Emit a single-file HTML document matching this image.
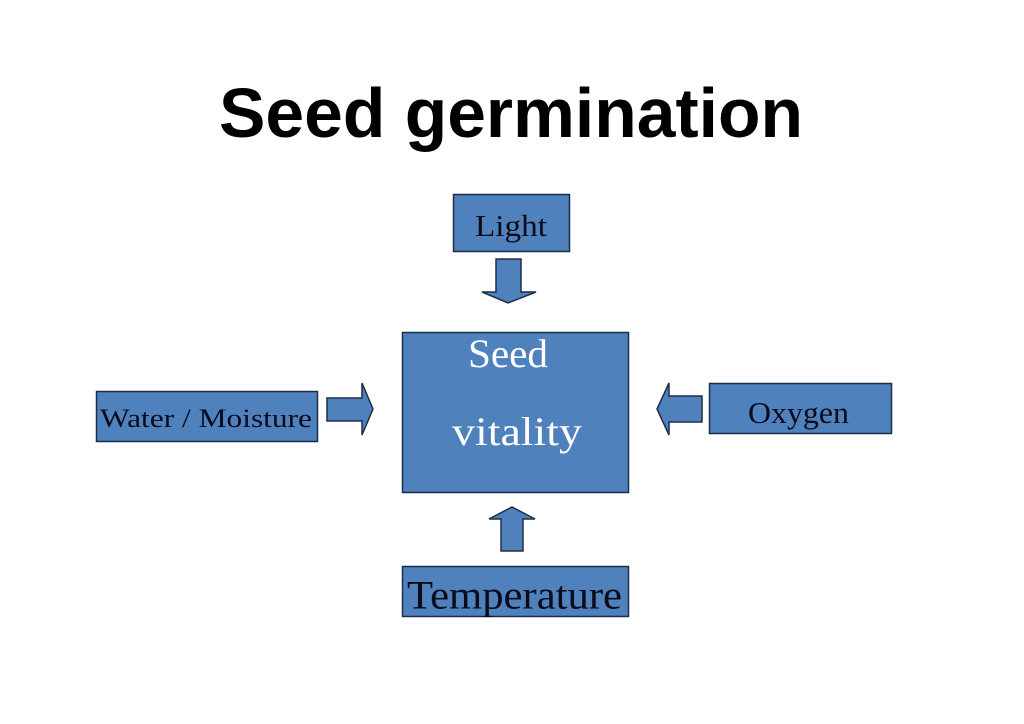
<!DOCTYPE html>
<html>
<head>
<meta charset="utf-8">
<style>
  html, body { margin: 0; padding: 0; background: #ffffff; }
  body { width: 1024px; height: 724px; overflow: hidden; }
  svg { display: block; }
</style>
</head>
<body>
<svg width="1024" height="724" viewBox="0 0 1024 724" xmlns="http://www.w3.org/2000/svg">
  <rect x="0" y="0" width="1024" height="724" fill="#ffffff"/>

  <!-- Title -->
  <text x="219" y="137" font-family="'Liberation Sans', sans-serif" font-weight="bold" font-size="70" fill="#000000" textLength="584" lengthAdjust="spacingAndGlyphs">Seed germination</text>

  <g fill="#4f81bd" stroke="#1e2d48" stroke-width="1.5">
    <!-- Boxes -->
    <rect x="453.5" y="194.5" width="116" height="57"/>
    <rect x="96.5" y="391.5" width="221" height="50"/>
    <rect x="709.5" y="383.5" width="182" height="50"/>
    <rect x="402.5" y="332.5" width="226" height="160"/>
    <rect x="402.5" y="566.5" width="226" height="50"/>

    <!-- Down arrow (Light) -->
    <polygon points="496,259 521,259 521,292 536,292 508,303 482,292 496,292"/>
    <!-- Right arrow (Water) -->
    <polygon points="327,398 362,398 362,383 373,409 362,435 362,421 327,421"/>
    <!-- Left arrow (Oxygen) -->
    <polygon points="702,396 669,396 669,383 657,409 669,435 669,422 702,422"/>
    <!-- Up arrow (Temperature) -->
    <polygon points="501,551 523,551 523,519 535,519 512,507 489,519 501,519"/>
  </g>

  <!-- Labels -->
  <g font-family="'Liberation Serif', serif" fill="#0b0b1c">
    <text x="475" y="236" font-size="31" textLength="72" lengthAdjust="spacingAndGlyphs">Light</text>
    <text x="100" y="427" font-size="26.5" textLength="212" lengthAdjust="spacingAndGlyphs">Water / Moisture</text>
    <text x="748" y="423" font-size="31" textLength="101" lengthAdjust="spacingAndGlyphs">Oxygen</text>
    <text x="407" y="608.5" font-size="40" textLength="215" lengthAdjust="spacingAndGlyphs">Temperature</text>
  </g>
  <g font-family="'Liberation Serif', serif" fill="#ffffff">
    <text x="468" y="367" font-size="40" textLength="80" lengthAdjust="spacingAndGlyphs">Seed</text>
    <text x="452" y="445" font-size="40" textLength="130" lengthAdjust="spacingAndGlyphs">vitality</text>
  </g>
</svg>
</body>
</html>
